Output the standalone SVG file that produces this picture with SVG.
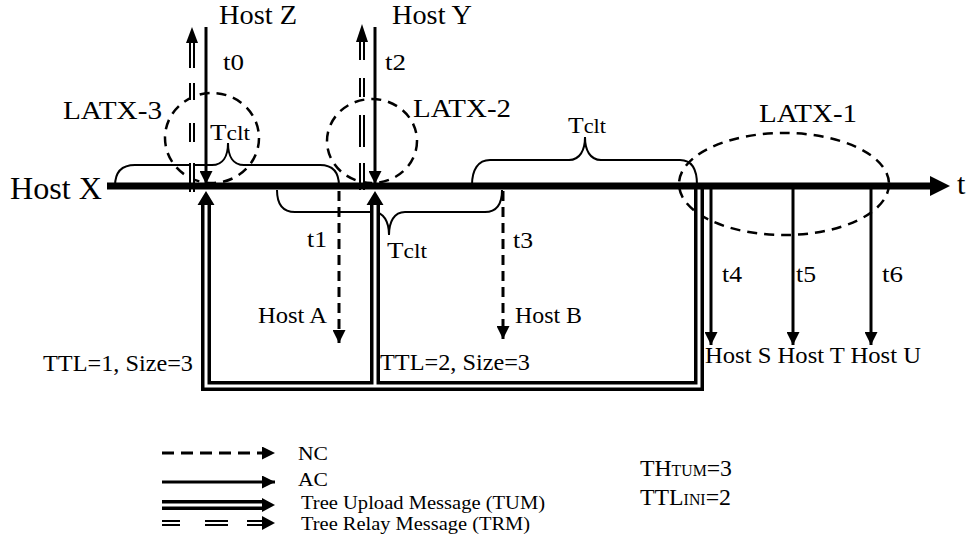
<svg xmlns="http://www.w3.org/2000/svg" xmlns:xlink="http://www.w3.org/1999/xlink" width="973" height="545" viewBox="0 0 973 545">
<style>
.t{font-family:"Liberation Serif","Times New Roman",serif;fill:#000}
.ac{stroke:#000;stroke-width:3;fill:none}
.nc{stroke:#000;stroke-width:3;stroke-dasharray:10 6;fill:none}
.circ{fill:none;stroke:#000;stroke-width:2.5;stroke-dasharray:10 7}
.brace{fill:none;stroke:#000;stroke-width:2}
.tumO{stroke:#000;stroke-width:10;fill:none}
.tumI{stroke:#fff;stroke-width:3;fill:none}
.trmO{stroke:#000;stroke-width:6;fill:none}
.trmI{stroke:#fff;stroke-width:2;fill:none}
.axis{stroke:#000;stroke-width:7;fill:none}
</style>
<defs>
<marker id="ah" markerUnits="userSpaceOnUse" markerWidth="13" markerHeight="13" viewBox="0 0 13 13" refX="13" refY="6.5" orient="auto"><path d="M0,0 L13,6.5 L0,13 Z" fill="#000"/></marker>
</defs>
<rect width="973" height="545" fill="#fff"/>

<g id="latx3"><ellipse class="circ" cx="212" cy="138" rx="47" ry="45"/><text class="t" x="63" y="119" font-size="26" textLength="99" lengthAdjust="spacingAndGlyphs">LATX-3</text></g>
<g id="latx2"><ellipse class="circ" cx="372" cy="141" rx="45" ry="42"/><text class="t" x="413" y="117" font-size="26" textLength="98" lengthAdjust="spacingAndGlyphs">LATX-2</text></g>
<g id="latx1"><ellipse class="circ" cx="784" cy="184" rx="105" ry="51"/><text class="t" x="759" y="122" font-size="26" textLength="98" lengthAdjust="spacingAndGlyphs">LATX-1</text></g>

<g id="tclt1"><path class="brace" d="M115,186 C115,172 122,165 135,165 L212,165 C223,165 228,156 228,143 C228,156 233,165 244,165 L320,165 C333,165 339,172 339,186"/><text class="t" x="210" y="140" font-size="23" textLength="40" lengthAdjust="spacingAndGlyphs">T<tspan font-size="20">clt</tspan></text></g>
<g id="tclt2"><path class="brace" d="M472,185 C472,170 478,160 490,160 L569,160 C580,160 585,150 585,137 C585,150 590,160 601,160 L680,160 C692,160 697,170 697,185"/><text class="t" x="568" y="133" font-size="23" textLength="38" lengthAdjust="spacingAndGlyphs">T<tspan font-size="20">clt</tspan></text></g>
<g id="tclt3"><path class="brace" d="M277,190 C277,204 283,212 295,212 L373,212 C384,212 389,222 389,235 C389,222 394,212 405,212 L485,212 C497,212 502,204 502,190"/><text class="t" x="387" y="258" font-size="23" textLength="40" lengthAdjust="spacingAndGlyphs">T<tspan font-size="20">clt</tspan></text></g>

<g id="connectors">
<path class="tumO" d="M206,204 L206,386 L699,386 L699,189 M375,204 L375,386"/>
<path class="tumI" d="M206,204 L206,386 L699,386 L699,189 M375,204 L375,386"/>
<path d="M197.5,205 L214.5,205 L206,191 Z M366.5,205 L383.5,205 L375,191 Z" fill="#000"/>
<path class="trmO" d="M192,43 L192,68 M192,83 L192,100 M192,123 L192,142 M192,163 L192,192 M362,42 L362,60 M362,78 L362,97 M362,115 L362,147 M362,163 L362,190"/>
<path class="trmI" d="M192,43 L192,68 M192,83 L192,100 M192,123 L192,142 M192,163 L192,192 M362,42 L362,60 M362,78 L362,97 M362,115 L362,147 M362,163 L362,190"/>
<path d="M186,43 L198,43 L192,27 Z M356,42 L368,42 L362,24 Z" fill="#000"/>
<line class="ac" x1="206" y1="27" x2="206" y2="184" marker-end="url(#ah)"/>
<line class="ac" x1="375" y1="27" x2="375" y2="184" marker-end="url(#ah)"/>
<line class="ac" x1="711" y1="188" x2="711" y2="345" marker-end="url(#ah)"/>
<line class="ac" x1="793" y1="188" x2="793" y2="345" marker-end="url(#ah)"/>
<line class="ac" x1="871" y1="188" x2="871" y2="345" marker-end="url(#ah)"/>
<line class="nc" x1="339" y1="191" x2="339" y2="343" marker-end="url(#ah)"/>
<line class="nc" x1="503" y1="191" x2="503" y2="339" marker-end="url(#ah)"/>
</g>

<g id="hostX">
<line class="axis" x1="107" y1="186" x2="932" y2="186"/>
<path d="M930,176 L950,186 L930,196 Z" fill="#000"/>
<text class="t" x="10" y="199" font-size="32" textLength="92" lengthAdjust="spacingAndGlyphs">Host X</text>
<text class="t" x="957" y="194" font-size="30">t</text>
</g>
<g id="hostZ"><text class="t" x="219" y="24" font-size="27" textLength="78" lengthAdjust="spacingAndGlyphs">Host Z</text><text class="t" x="223" y="70" font-size="24" textLength="21" lengthAdjust="spacingAndGlyphs">t0</text></g>
<g id="hostY"><text class="t" x="392" y="24" font-size="27" textLength="80" lengthAdjust="spacingAndGlyphs">Host Y</text><text class="t" x="385" y="70" font-size="24" textLength="21" lengthAdjust="spacingAndGlyphs">t2</text></g>
<g id="hostA"><text class="t" x="258" y="323" font-size="23" textLength="69" lengthAdjust="spacingAndGlyphs">Host A</text><text class="t" x="307" y="247" font-size="24" textLength="20" lengthAdjust="spacingAndGlyphs">t1</text></g>
<g id="hostB"><text class="t" x="515" y="323" font-size="23" textLength="67" lengthAdjust="spacingAndGlyphs">Host B</text><text class="t" x="513" y="248" font-size="24" textLength="20" lengthAdjust="spacingAndGlyphs">t3</text></g>
<g id="hostSTU">
<text class="t" x="705" y="363" font-size="23" textLength="216" lengthAdjust="spacingAndGlyphs">Host S Host T Host U</text>
<text class="t" x="722" y="282" font-size="24" textLength="20" lengthAdjust="spacingAndGlyphs">t4</text>
<text class="t" x="796" y="282" font-size="24" textLength="20" lengthAdjust="spacingAndGlyphs">t5</text>
<text class="t" x="882" y="282" font-size="24" textLength="21" lengthAdjust="spacingAndGlyphs">t6</text>
</g>
<g id="ttl">
<text class="t" x="43" y="371" font-size="23" textLength="150" lengthAdjust="spacingAndGlyphs">TTL=1, Size=3</text>
<text class="t" x="380" y="370" font-size="23" textLength="150" lengthAdjust="spacingAndGlyphs">TTL=2, Size=3</text>
</g>

<g id="legend">
<line x1="162" y1="453" x2="275" y2="453" stroke="#000" stroke-width="3" stroke-dasharray="12 7" marker-end="url(#ah)"/>
<line class="ac" x1="162" y1="482" x2="275" y2="482" marker-end="url(#ah)"/>
<line class="tumO" x1="162" y1="505" x2="263" y2="505" stroke-width="8"/>
<line class="tumI" x1="162" y1="505" x2="263" y2="505" stroke-width="2.5"/>
<path d="M262,498 L275,505 L262,512 Z" fill="#000"/>
<path class="trmO" d="M162,523 L180,523 M205,523 L228,523 M247,523 L263,523" stroke-width="7"/>
<path class="trmI" d="M162,523 L180,523 M205,523 L228,523 M247,523 L263,523"/>
<path d="M262,516 L275,523 L262,530 Z" fill="#000"/>
<text class="t" x="298" y="460" font-size="19" textLength="30" lengthAdjust="spacingAndGlyphs">NC</text>
<text class="t" x="298" y="486" font-size="19" textLength="30" lengthAdjust="spacingAndGlyphs">AC</text>
<text class="t" x="301" y="509" font-size="19" textLength="244" lengthAdjust="spacingAndGlyphs">Tree Upload Message (TUM)</text>
<text class="t" x="301" y="530" font-size="19" textLength="229" lengthAdjust="spacingAndGlyphs">Tree Relay Message (TRM)</text>
</g>
<g id="params">
<text class="t" x="640" y="476" font-size="24" textLength="92" lengthAdjust="spacingAndGlyphs">TH<tspan font-size="16">TUM</tspan>=3</text>
<text class="t" x="640" y="505" font-size="24" textLength="91" lengthAdjust="spacingAndGlyphs">TTL<tspan font-size="16">INI</tspan>=2</text>
</g>
</svg>
